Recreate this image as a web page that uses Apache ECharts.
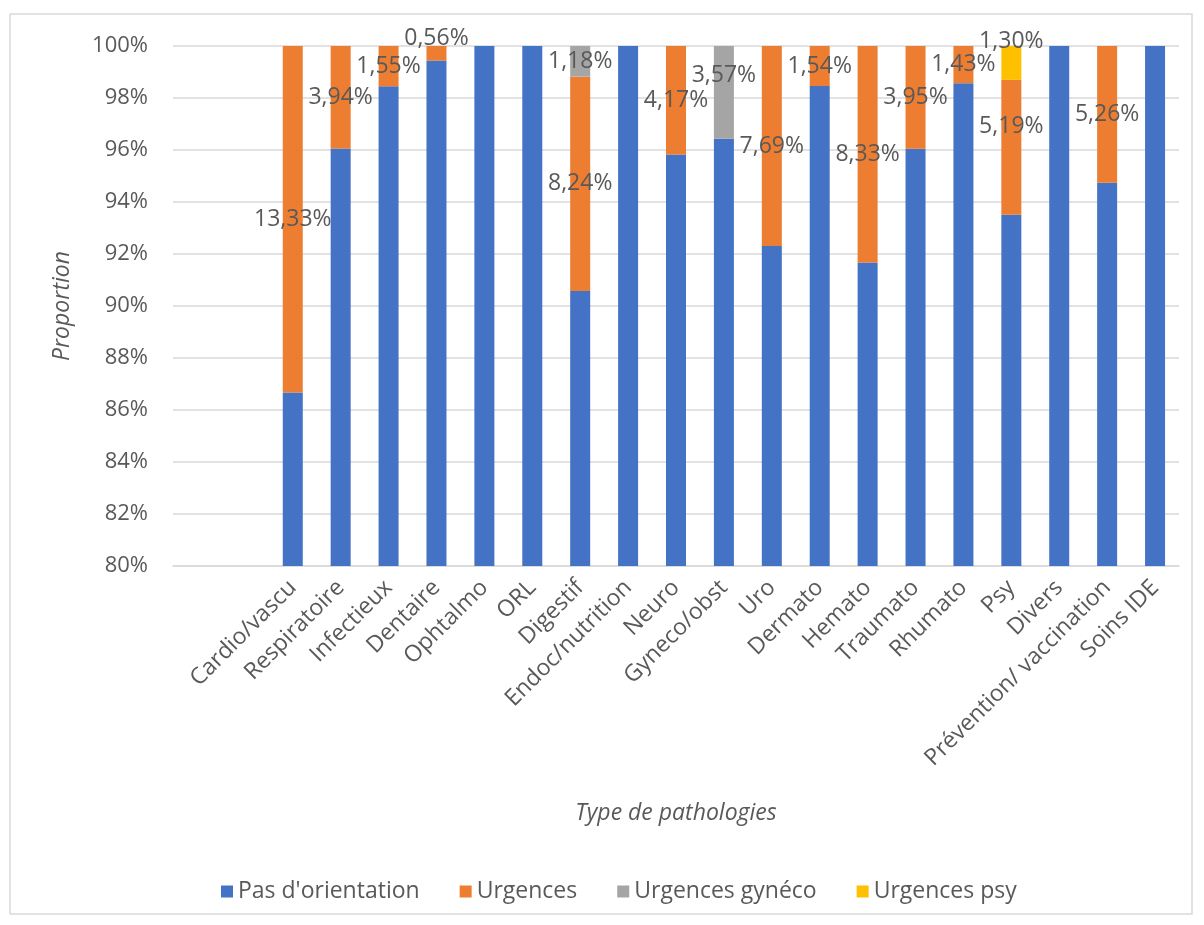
<!DOCTYPE html>
<html>
<head>
<meta charset="utf-8">
<script src="https://cdn.jsdelivr.net/npm/echarts@6/dist/echarts.min.js"></script>
<style>
  html, body { margin: 0; padding: 0; background: #fff; }
  #chart { width: 1204px; height: 925px; }
</style>
</head>
<body>
<div id="chart"></div>
<script>
// two blank leading categories exist in the source sheet
const categories = ['', '', 'Cardio/vascu', 'Respiratoire', 'Infectieux', 'Dentaire', 'Ophtalmo', 'ORL',
  'Digestif', 'Endoc/nutrition', 'Neuro', 'Gyneco/obst', 'Uro', 'Dermato', 'Hemato', 'Traumato',
  'Rhumato', 'Psy', 'Divers', 'Prévention/ vaccination', 'Soins IDE']

const pasOrientation = [null, null, 86.67, 96.06, 98.45, 99.44, 100, 100, 90.58, 100, 95.83, 96.43,
  92.31, 98.46, 91.67, 96.05, 98.57, 93.51, 100, 94.74, 100]
const urgences = [null, null, 13.33, 3.94, 1.55, 0.56, 0, 0, 8.24, 0, 4.17, 0,
  7.69, 1.54, 8.33, 3.95, 1.43, 5.19, 0, 5.26, 0]
const urgencesGyneco = [null, null, 0, 0, 0, 0, 0, 0, 1.18, 0, 0, 3.57,
  0, 0, 0, 0, 0, 0, 0, 0, 0]
const urgencesPsy = [null, null, 0, 0, 0, 0, 0, 0, 0, 0, 0, 0,
  0, 0, 0, 0, 0, 1.30, 0, 0, 0]

const yTicks = { min: 80, max: 100, step: 2 }

const FONT = '"Open Sans", sans-serif'
const TEXT = '#595959'

// a few labels were nudged up by hand in the original
const labelShift = { 5: -15, 11: -17, 17: -21 }

function fmt(v) {
  return v.toFixed(2).replace('.', ',') + '%'
}

function withLabels(arr) {
  return arr.map((v, i) => {
    if (v == null) return null
    const item = { value: v }
    if (v > 0) {
      item.label = {
        show: true,
        position: 'inside',
        formatter: fmt(v),
        color: TEXT,
        fontSize: 23,
        fontFamily: FONT,
        offset: [0, labelShift[i] || 0],
      }
    }
    return item
  })
}

const chart = echarts.init(document.getElementById('chart'))

function barSeries(name, data, color, labelled) {
  return {
    name,
    type: 'bar',
    stack: 'total',
    barWidth: 20,
    itemStyle: { color },
    data: labelled ? withLabels(data) : data,
    label: { show: false },
    emphasis: { disabled: true },
  }
}

chart.setOption({
  animation: false,
  textStyle: { fontFamily: FONT },
  graphic: [{
    type: 'rect',
    shape: { x: 10, y: 14, width: 1182, height: 900 },
    style: { fill: 'none', stroke: '#D9D9D9', lineWidth: 1.5 },
    silent: true,
  }],
  grid: { left: 173, right: 25, top: 46, bottom: 359, containLabel: false },
  legend: {
    left: 216,
    top: 875,
    icon: 'rect',
    itemWidth: 12,
    itemHeight: 12,
    itemGap: 40,
    textStyle: { color: TEXT, fontSize: 23, fontFamily: FONT },
    data: ["Pas d'orientation", 'Urgences', 'Urgences gynéco', 'Urgences psy'],
  },
  xAxis: {
    type: 'category',
    data: categories,
    name: 'Type de pathologies',
    nameLocation: 'middle',
    nameGap: 236,
    nameTextStyle: { color: TEXT, fontSize: 23, fontStyle: 'italic', fontFamily: FONT },
    axisLine: { lineStyle: { color: '#D9D9D9', width: 1.5 } },
    axisTick: { show: false },
    axisLabel: {
      interval: 0,
      rotate: 45,
      margin: 18,
      color: TEXT,
      fontSize: 23,
      fontFamily: FONT,
    },
  },
  yAxis: {
    type: 'value',
    min: yTicks.min,
    max: yTicks.max,
    interval: yTicks.step,
    name: 'Proportion',
    nameLocation: 'middle',
    nameGap: 99,
    nameTextStyle: { color: TEXT, fontSize: 23, fontStyle: 'italic', fontFamily: FONT },
    axisLine: { show: false },
    axisTick: { show: false },
    axisLabel: { formatter: '{value}%', margin: 25, color: TEXT, fontSize: 22, fontFamily: FONT },
    splitLine: { lineStyle: { color: '#D9D9D9', width: 1.5 } },
  },
  series: [
    barSeries("Pas d'orientation", pasOrientation, '#4472C4', false),
    barSeries('Urgences', urgences, '#ED7D31', true),
    barSeries('Urgences gynéco', urgencesGyneco, '#A5A5A5', true),
    barSeries('Urgences psy', urgencesPsy, '#FFC000', true),
  ],
})

window.addEventListener('resize', () => chart.resize())
</script>
</body>
</html>
